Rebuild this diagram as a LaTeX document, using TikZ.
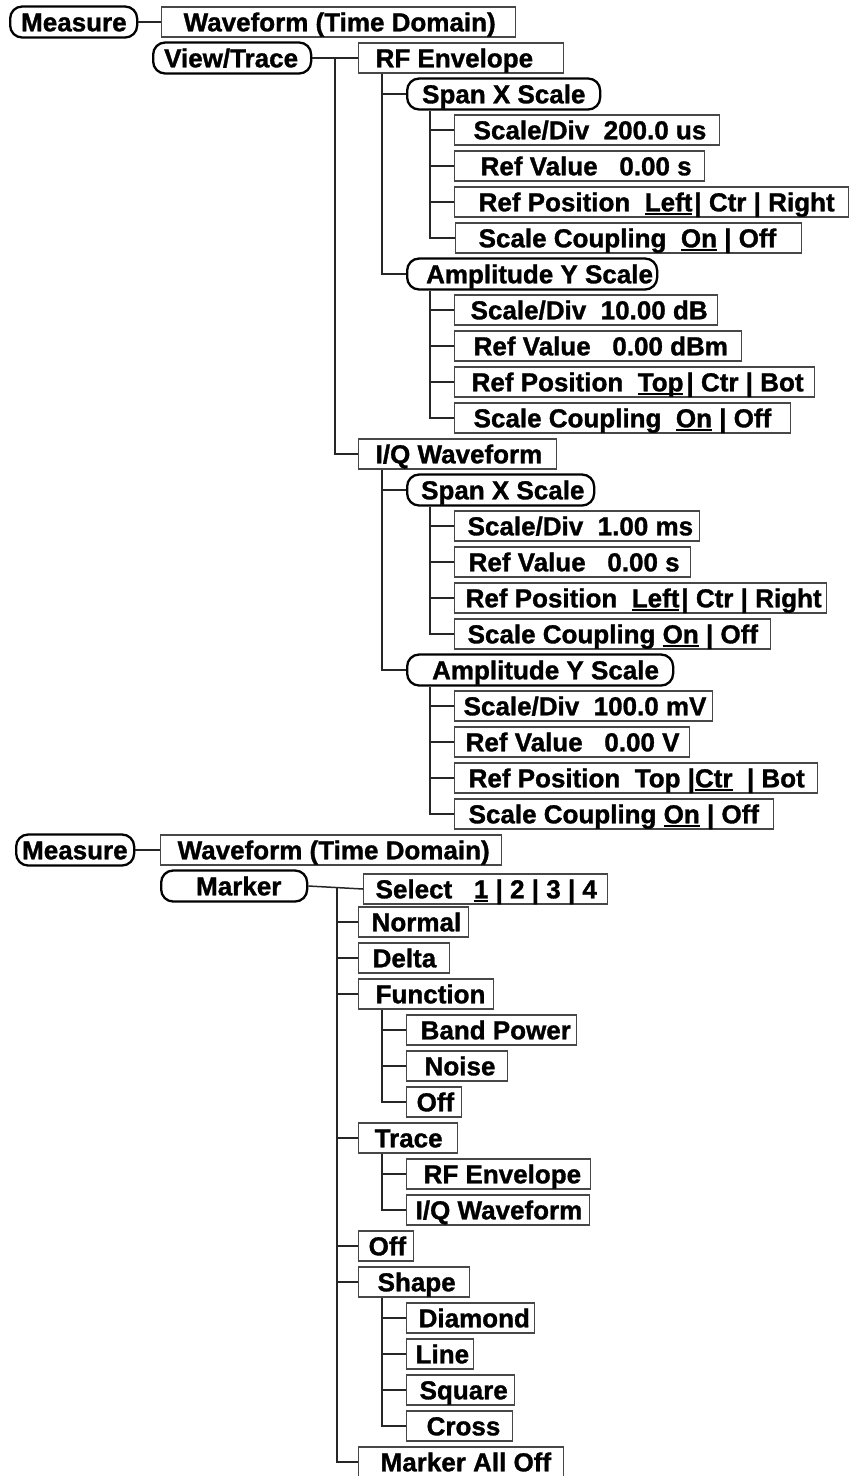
\documentclass[tikz,border=0pt]{standalone}
\usepackage{fontspec}
\setmainfont{Liberation Sans}[BoldFeatures={FakeBold=1.2}]
\usetikzlibrary{calc}
\newcommand{\mtxt}[3]{\makebox[#1pt][l]{\hspace*{#2pt}#3}}
\newcommand{\ulin}[2][1.8]{\setbox0\hbox{#2}\rlap{\rule[-3.2pt]{\wd0}{#1pt}}\box0\relax}
\begin{document}
\begin{tikzpicture}[x=1pt,y=-1pt,
  every node/.style={font=\fontsize{26pt}{30pt}\selectfont\bfseries, inner sep=0pt, text height=21pt, text depth=2.4pt, anchor=west},
  rb/.style={draw=black!72, line width=1.3pt, minimum height=30pt},
  ob/.style={draw=black, line width=2.3pt, rounded corners=12pt, minimum height=31pt},
  con/.style={draw=black!85, line width=1.5pt}]
\useasboundingbox (0,0) rectangle (849,1476);
\fill[white] (0,0) rectangle (849,1476);
% ---------- top section ----------
\node[ob] (m1) at (9,22) {\mtxt{127}{11}{Measure}};
\node[rb] (w1) at (161,22) {\mtxt{354}{22}{Waveform (Time Domain)}};
\node[ob] (vt) at (152,58) {\mtxt{158}{11}{View/Trace}};
\node[rb] (rf1) at (358,58) {\mtxt{205}{17}{RF Envelope}};
\node[ob] (sx1) at (406,94) {\mtxt{193}{15}{Span X Scale}};
\node[rb] (sd1) at (454,130) {\mtxt{265}{19}{Scale/Div\ \ 200.0 us}};
\node[rb] (rv1) at (454,166) {\mtxt{250}{26}{Ref Value\ \ \ 0.00 s}};
\node[rb] (rp1) at (454,202) {\mtxt{394}{24}{Ref Position\ \ \ulin{Left}\hspace{2pt}| Ctr | Right}};
\node[rb] (sc1) at (455,238) {\mtxt{346}{23}{Scale Coupling\ \ \ulin{On} | Off}};
\node[ob] (ay1) at (406,274) {\mtxt{250}{19}{Amplitude Y Scale}};
\node[rb] (sd2) at (454,310) {\mtxt{263}{16}{Scale/Div\ \ 10.00 dB}};
\node[rb] (rv2) at (454,346) {\mtxt{287}{19}{Ref Value\ \ \ 0.00 dBm}};
\node[rb] (rp2) at (454,382) {\mtxt{360}{17}{Ref Position\ \ \ulin{Top}\hspace{3pt}| Ctr | Bot}};
\node[rb] (sc2) at (454,418) {\mtxt{336}{19}{Scale Coupling\ \ \ulin{On} | Off}};
\node[rb] (iq1) at (358,454) {\mtxt{198}{17}{I/Q Waveform}};
\node[ob] (sx2) at (406,490) {\mtxt{187}{14}{Span X Scale}};
\node[rb] (sd3) at (454,526) {\mtxt{245}{13}{Scale/Div\ \ 1.00 ms}};
\node[rb] (rv3) at (454,562) {\mtxt{236}{14}{Ref Value\ \ \ 0.00 s}};
\node[rb] (rp3) at (454,598) {\mtxt{372}{11}{Ref Position\ \ \ulin{Left}\hspace{2pt}| Ctr | Right}};
\node[rb] (sc3) at (454,634) {\mtxt{316}{13}{Scale Coupling \ulin{On} | Off}};
\node[ob] (ay2) at (406,670) {\mtxt{266}{25}{Amplitude Y Scale}};
\node[rb] (sd4) at (454,706) {\mtxt{258}{9}{Scale/Div\ \ 100.0 mV}};
\node[rb] (rv4) at (454,742) {\mtxt{235}{11}{Ref Value\ \ \ 0.00 V}};
\node[rb] (rp4) at (454,778) {\mtxt{363}{14}{Ref Position\ \ Top |\ulin{Ctr}\ \ | Bot}};
\node[rb] (sc4) at (454,814) {\mtxt{319}{14}{Scale Coupling \ulin{On} | Off}};
% ---------- bottom section ----------
\node[ob] (m2) at (15,850) {\mtxt{118}{6}{Measure}};
\node[rb] (w2) at (160,850) {\mtxt{341}{17}{Waveform (Time Domain)}};
\node[ob] (mk) at (160,886) {\mtxt{146}{35}{Marker}};
\node[rb] (sel) at (363,889) {\mtxt{244}{12}{Select\ \ \ \ulin[1.2]{1} | 2 | 3 | 4}};
\node[rb] (nor) at (358,922) {\mtxt{110}{13}{Normal}};
\node[rb] (del) at (358,958) {\mtxt{91}{14}{Delta}};
\node[rb] (fun) at (358,994) {\mtxt{135}{17}{Function}};
\node[rb] (bp) at (406,1030) {\mtxt{170}{14}{Band Power}};
\node[rb] (noi) at (406,1066) {\mtxt{101}{18}{Noise}};
\node[rb] (off1) at (406,1102) {\mtxt{55}{10}{Off}};
\node[rb] (tra) at (358,1138) {\mtxt{99}{16}{Trace}};
\node[rb] (rf2) at (406,1174) {\mtxt{184}{17}{RF Envelope}};
\node[rb] (iq2) at (406,1210) {\mtxt{183}{9}{I/Q Waveform}};
\node[rb] (off2) at (358,1246) {\mtxt{55}{10}{Off}};
\node[rb] (sha) at (358,1282) {\mtxt{111}{19}{Shape}};
\node[rb] (dia) at (406,1318) {\mtxt{128}{12}{Diamond}};
\node[rb] (lin) at (406,1354) {\mtxt{67}{9}{Line}};
\node[rb] (squ) at (406,1390) {\mtxt{108}{13}{Square}};
\node[rb] (cro) at (406,1426) {\mtxt{106}{20}{Cross}};
\node[rb] (mao) at (358,1462) {\mtxt{205}{22}{Marker All Off}};
% ---------- connectors ----------
\coordinate (X1) at (335,0);
\coordinate (X2) at (382,0);
\coordinate (X3) at (430,0);
\draw[con] (m1.east) -- (w1.west);
\draw[con] (vt.east) -- (rf1.west);
\draw[con] (vt.east -| X1) |- (iq1.west);
\draw[con] (rf1.south -| X2) |- (ay1.west);
\draw[con] (sx1.west -| X2) -- (sx1.west);
\draw[con] (sx1.south -| X3) |- (sc1.west);
\foreach \n in {sd1,rv1,rp1} \draw[con] (\n.west -| X3) -- (\n.west);
\draw[con] (ay1.south -| X3) |- (sc2.west);
\foreach \n in {sd2,rv2,rp2} \draw[con] (\n.west -| X3) -- (\n.west);
\draw[con] (iq1.south -| X2) |- (ay2.west);
\draw[con] (sx2.west -| X2) -- (sx2.west);
\draw[con] (sx2.south -| X3) |- (sc3.west);
\foreach \n in {sd3,rv3,rp3} \draw[con] (\n.west -| X3) -- (\n.west);
\draw[con] (ay2.south -| X3) |- (sc4.west);
\foreach \n in {sd4,rv4,rp4} \draw[con] (\n.west -| X3) -- (\n.west);
\draw[con] (m2.east) -- (w2.west);
\draw[con] (mk.east) -- (sel.west);
\coordinate (mj) at ($(mk.east)!0.526!(sel.west)$);
\draw[con] (mj) |- (mao.west);
\foreach \n in {nor,del,fun,tra,off2,sha} \draw[con] (\n.west -| mj) -- (\n.west);
\draw[con] (fun.south -| X2) |- (off1.west);
\foreach \n in {bp,noi} \draw[con] (\n.west -| X2) -- (\n.west);
\draw[con] (tra.south -| X2) |- (iq2.west);
\draw[con] (rf2.west -| X2) -- (rf2.west);
\draw[con] (sha.south -| X2) |- (cro.west);
\foreach \n in {dia,lin,squ} \draw[con] (\n.west -| X2) -- (\n.west);
\end{tikzpicture}
\end{document}
